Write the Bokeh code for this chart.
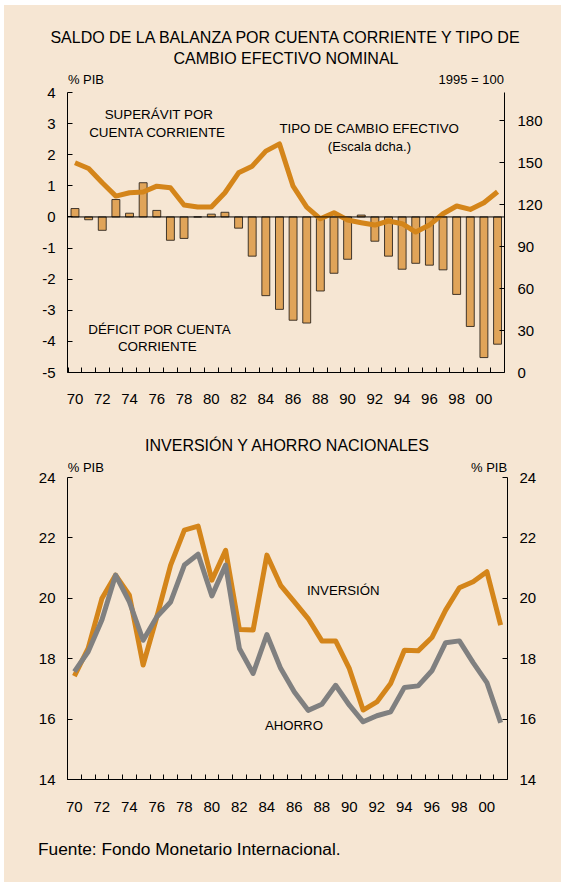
from bokeh.plotting import figure
from bokeh.models import (Range1d, LinearAxis, FixedTicker, Span, Label, ColumnDataSource, Div)
from bokeh.layouts import column
from bokeh.embed import file_html
from bokeh.resources import INLINE

# ---------------- data ----------------
years = list(range(1970, 2002))
saldo = [0.27, -0.09, -0.43, 0.56, 0.12, 1.10, 0.21, -0.75, -0.69, 0.0,
         0.09, 0.15, -0.36, -1.26, -2.53, -2.97, -3.32, -3.41, -2.38, -1.81,
         -1.36, 0.06, -0.78, -1.26, -1.68, -1.49, -1.55, -1.70, -2.49, -3.52,
         -4.52, -4.09]
tipo_cambio = [149.8, 145.7, 135.5, 126.0, 128.4, 128.9, 133.1, 132.0, 119.6, 118.2,
               118.2, 128.4, 142.6, 147.4, 158.1, 163.3, 133.1, 118.2, 109.8, 114.1,
               108.9, 107.0, 105.3, 108.2, 106.3, 100.3, 105.3, 113.4, 118.9, 116.5,
               121.3, 129.1]
inversion = [17.42, 18.34, 19.99, 20.77, 20.10, 17.79, 19.39, 21.10, 22.26, 22.39,
             20.60, 21.59, 18.97, 18.95, 21.43, 20.43, 19.88, 19.33, 18.59, 18.59,
             17.67, 16.30, 16.57, 17.18, 18.28, 18.26, 18.70, 19.61, 20.35, 20.55,
             20.88, 19.11]
ahorro = [17.57, 18.23, 19.28, 20.77, 19.88, 18.61, 19.39, 19.88, 21.10, 21.46,
          20.08, 21.10, 18.34, 17.51, 18.80, 17.68, 16.90, 16.29, 16.49, 17.12,
          16.46, 15.91, 16.11, 16.24, 17.05, 17.10, 17.60, 18.53, 18.59, 17.87,
          17.21, 15.88]
year_labels = {y: "%02d" % (y % 100) for y in range(1970, 2002, 2)}
left_ticks_top = list(range(-5, 5))
right_ticks_top = list(range(0, 181, 30))
ticks_bottom = list(range(14, 25, 2))

BG = "#F6E6D3"
ORANGE = "#D4851A"
BAR = "#E0A459"
GRAY = "#808080"
FONT = "Liberation Sans"
TICKFS = "15px"
LABFS = "13.4px"
W = 557

src = ColumnDataSource(dict(year=years, saldo=saldo, tc=tipo_cambio,
                            inv=inversion, aho=ahorro))


def style_fig(p):
    p.background_fill_color = BG
    p.border_fill_color = BG
    p.outline_line_color = None
    p.xgrid.visible = False
    p.ygrid.visible = False


def style_yaxis(ax, standoff=12):
    ax.axis_line_color = "black"
    ax.axis_line_width = 1
    ax.major_tick_in = 5
    ax.major_tick_out = 0
    ax.minor_tick_line_color = None
    ax.major_label_standoff = standoff
    ax.major_label_text_font = FONT
    ax.major_label_text_font_size = TICKFS
    ax.major_label_text_color = "black"


def style_xaxis(ax, standoff):
    ax.ticker = FixedTicker(ticks=list(range(1970, 2002, 2)),
                            minor_ticks=[y + 0.5 for y in range(1969, 2001)])
    ax.major_label_overrides = year_labels
    ax.major_tick_line_color = None
    ax.minor_tick_in = 5
    ax.minor_tick_out = 0
    ax.minor_tick_line_color = "black"
    ax.axis_line_color = "black"
    ax.major_label_standoff = standoff
    ax.major_label_text_font = FONT
    ax.major_label_text_font_size = TICKFS
    ax.major_label_text_color = "black"


def lab(p, x, y, text, size=LABFS, align="center"):
    p.add_layout(Label(x=x, y=y, text=text, text_font=FONT, text_font_size=size,
                       text_align=align, text_baseline="middle", text_color="black"))


def span(text, x, y, size, align="center"):
    if align == "center":
        pos = "left:%gpx;transform:translate(-50%%,-50%%);" % x
    elif align == "left":
        pos = "left:%gpx;transform:translate(0,-50%%);" % x
    else:
        pos = "right:%gpx;transform:translate(0,-50%%);" % (W - x)
    return ('<span style="position:absolute;top:%gpx;%swhite-space:nowrap;'
            'font-family:\'%s\';font-size:%s;line-height:1;color:black;">%s</span>'
            % (y, pos, FONT, size, text))


def text_div(h, spans):
    html = ('<div style="position:relative;width:%dpx;height:%dpx;">%s</div>'
            % (W, h, "".join(spans)))
    return Div(text=html, width=W, height=h, margin=(0, 0, 0, 0),
               styles={"background-color": BG})


# ---------------- top header ----------------
div1 = text_div(65, [
    span("SALDO DE LA BALANZA POR CUENTA CORRIENTE Y TIPO DE", 281, 33, "16px"),
    span("CAMBIO EFECTIVO NOMINAL", 282, 54, "16px"),
])

# ---------------- top chart ----------------
top_end = -5 + 302 / (280 / 9)
p1 = figure(frame_width=437, frame_height=302, min_border_left=59, min_border_right=61,
            min_border_top=0, min_border_bottom=48,
            x_range=Range1d(1969.45, 2001.51), y_range=Range1d(-5, top_end),
            output_backend="svg", toolbar_location=None)
style_fig(p1)
p1.extra_y_ranges = {"tc": Range1d(0, (top_end + 5) * 200 / 9)}
style_yaxis(p1.yaxis[0], 12)
p1.yaxis[0].ticker = FixedTicker(ticks=left_ticks_top)
p1.yaxis[0].bounds = (-5, 4)
p1.yaxis[0].major_label_overrides = {v: str(v) for v in left_ticks_top}
rax = LinearAxis(y_range_name="tc", ticker=FixedTicker(ticks=right_ticks_top), bounds=(0, 200))
style_yaxis(rax, 13)
p1.add_layout(rax, "right")
style_xaxis(p1.xaxis[0], 15)

p1.vbar(x="year", top="saldo", bottom=0, width=0.58, source=src,
        fill_color=BAR, line_color="#2e261e", line_width=0.9)
p1.add_layout(Span(location=0, dimension="width", line_color="black", line_width=1))
p1.line(x="year", y="tc", source=src, y_range_name="tc", line_color=ORANGE,
        line_width=5, line_join="round")

lab(p1, 1969.48, 4.41, "% PIB", "13px", "left")
lab(p1, 2001.47, 4.41, "1995 = 100", "13px", "right")
lab(p1, 1976.16, 3.283, "SUPERÁVIT POR")
lab(p1, 1976.05, 2.714, "CUENTA CORRIENTE")
lab(p1, 1976.2, -3.605, "DÉFICIT POR CUENTA")
lab(p1, 1976.04, -4.174, "CORRIENTE")
lab(p1, 1991.58, 2.856, "TIPO DE CAMBIO EFECTIVO", "13.3px")
lab(p1, 1991.6, 2.255, "(Escala dcha.)", "13px")

# ---------------- bottom header ----------------
div2 = text_div(36, [
    span("INVERSIÓN Y AHORRO NACIONALES", 283, 26, "16px"),
])

# ---------------- bottom chart ----------------
bot_end = 14 + 323 / 30.2
p2 = figure(frame_width=440, frame_height=323, min_border_left=63, min_border_right=54,
            min_border_top=0, min_border_bottom=41,
            x_range=Range1d(1969.5, 2001.5), y_range=Range1d(14, bot_end),
            output_backend="svg", toolbar_location=None)
style_fig(p2)
p2.yaxis[0].ticker = FixedTicker(ticks=ticks_bottom)
p2.yaxis[0].bounds = (14, 24)
style_yaxis(p2.yaxis[0], 12)
rax2 = LinearAxis(ticker=FixedTicker(ticks=ticks_bottom), bounds=(14, 24))
style_yaxis(rax2, 12)
p2.add_layout(rax2, "right")
style_xaxis(p2.xaxis[0], 16)

p2.line(x="year", y="inv", source=src, line_color=ORANGE, line_width=5, line_join="round")
p2.line(x="year", y="aho", source=src, line_color=GRAY, line_width=5, line_join="round")

lab(p2, 1969.52, 24.34, "% PIB", "13px", "left")
lab(p2, 2001.47, 24.34, "% PIB", "13px", "right")
lab(p2, 1989.55, 20.245, "INVERSIÓN", "13.2px")
lab(p2, 1985.97, 15.775, "AHORRO", "13.2px")

# ---------------- footer ----------------
div3 = text_div(62, [
    span("Fuente: Fondo Monetario Internacional.", 34, 30, "17.3px", "left"),
])

layout = column(div1, p1, div2, p2, div3, spacing=0, margin=(5, 0, 0, 4),
                styles={"background-color": BG})
open("out.html", "w").write(file_html(layout, INLINE))
